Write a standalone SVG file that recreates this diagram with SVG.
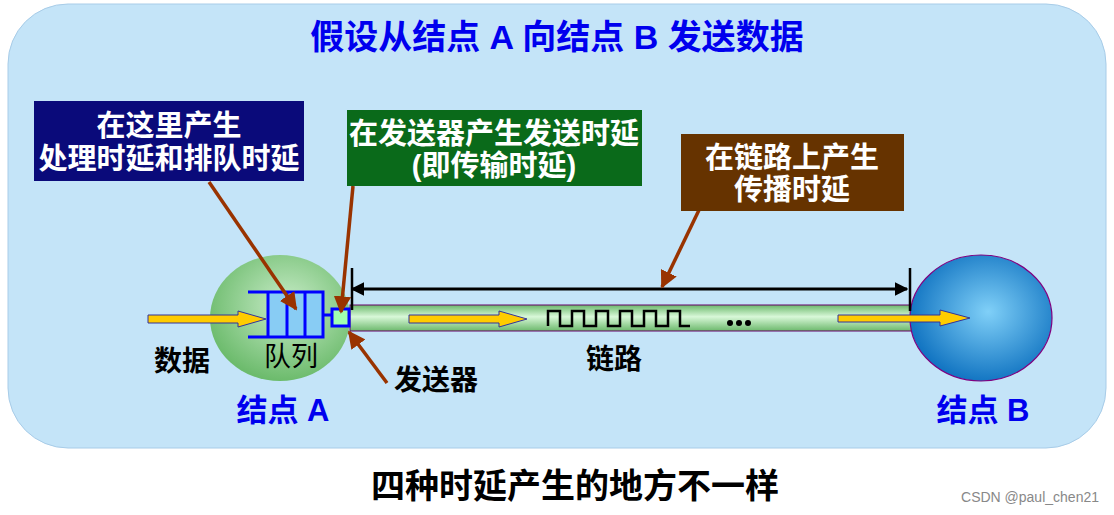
<svg xmlns="http://www.w3.org/2000/svg" width="1114" height="515" viewBox="0 0 1114 515">
<style>
.cn{font-family:"Liberation Sans","Noto Sans CJK SC",sans-serif;font-weight:bold}
.lb{font-size:29px;fill:#fff}
.ptr{stroke:#993300;stroke-width:3.5;fill:none;marker-end:url(#bh)}
.yarr{fill:#ffcc00;stroke:#333399;stroke-width:1}
</style>
<defs>
<radialGradient id="ga" cx="0.55" cy="0.4" r="0.6"><stop offset="0" stop-color="#c8ecc8"/><stop offset="1" stop-color="#6cbb6c"/></radialGradient>
<radialGradient id="gb" cx="0.55" cy="0.45" r="0.6"><stop offset="0" stop-color="#80d0f8"/><stop offset="1" stop-color="#0a6ebe"/></radialGradient>
<linearGradient id="gp" x1="0" y1="0" x2="0" y2="1"><stop offset="0" stop-color="#6cb86c"/><stop offset="0.45" stop-color="#d8f8d8"/><stop offset="1" stop-color="#6cb86c"/></linearGradient>
<marker id="bh" viewBox="0 0 10 10" refX="9" refY="5" markerWidth="5" markerHeight="5" orient="auto"><path d="M0,0L10,5L0,10z" fill="#993300"/></marker>
<marker id="kh" viewBox="0 0 10 10" refX="9" refY="5" markerWidth="4.5" markerHeight="4.5" orient="auto-start-reverse"><path d="M0,0L10,5L0,10z" fill="#000"/></marker>
</defs>
<rect width="1114" height="515" fill="#fff"/>
<rect x="8" y="4" width="1098" height="444" rx="60" fill="#c4e4f8" stroke="#a8cce8"/>
<text x="557" y="49" text-anchor="middle" class="cn" font-size="34" fill="#0000ee">假设从结点 A 向结点 B 发送数据</text>
<g id="link">
<rect x="350" y="305" width="562" height="26" fill="url(#gp)" stroke="#660066" stroke-width="1"/>
<path d="M548,326V311H560V326H572V311H584V326H596V311H608V326H620V311H632V326H644V311H656V326H668V311H680V326H690" fill="none" stroke="#000" stroke-width="2.5"/>
<circle cx="730" cy="323" r="3"/><circle cx="739" cy="323" r="3"/><circle cx="748" cy="323" r="3"/>
</g>
<g id="nodeA"><ellipse cx="280" cy="318" rx="70" ry="63" fill="url(#ga)"/></g>
<g id="nodeB"><ellipse cx="981" cy="318" rx="71" ry="63" fill="url(#gb)" stroke="#800080" stroke-width="1.2"/></g>
<g id="queue">
<rect x="268" y="292" width="55" height="45" fill="#88ccf4"/>
<path d="M248,292H323V337H248M268,292V337M287,292V337M305,292V337" fill="none" stroke="#0000ff" stroke-width="3"/>
<path d="M323,315H332" stroke="#0000ff" stroke-width="3"/>
<rect x="332" y="309" width="17" height="17" fill="#a0ffb0" stroke="#0000ff" stroke-width="3"/>
</g>
<g id="connectors">
<path class="yarr" d="M148,315H238V311L266,319L238,327V323H148z"/>
<path class="yarr" d="M409,315H499V311L527,319L499,327V323H409z"/>
<path class="yarr" d="M838,315H940V310L970,318L940,326V322H838z"/>
<path d="M352,289H907" stroke="#000" stroke-width="3" marker-start="url(#kh)" marker-end="url(#kh)"/>
<path d="M352,268V310M910,268V311" stroke="#000" stroke-width="2.5"/>
<path class="ptr" d="M209,182L296,309"/>
<path class="ptr" d="M353,186L341,312"/>
<path class="ptr" d="M387,383L349,332"/>
<path class="ptr" d="M699,210L662,287"/>
</g>
<g id="label1"><rect x="34" y="101" width="270" height="80" fill="#0a0a7a"/>
<text x="169" y="136" text-anchor="middle" class="cn lb">在这里产生</text>
<text x="169" y="169" text-anchor="middle" class="cn lb">处理时延和排队时延</text></g>
<g id="label2"><rect x="347" y="110" width="295" height="76" fill="#0a6a1a"/>
<text x="494" y="144" text-anchor="middle" class="cn lb">在发送器产生发送时延</text>
<text x="494" y="176" text-anchor="middle" class="cn lb">(即传输时延)</text></g>
<g id="label3"><rect x="681" y="134" width="223" height="77" fill="#663300"/>
<text x="792" y="168" text-anchor="middle" class="cn lb">在链路上产生</text>
<text x="792" y="200" text-anchor="middle" class="cn lb">传播时延</text></g>
<text x="182" y="371" text-anchor="middle" class="cn" font-size="28">数据</text>
<text x="291" y="366" text-anchor="middle" font-family="Liberation Sans,Noto Sans CJK SC,sans-serif" font-size="27">队列</text>
<text x="436" y="390" text-anchor="middle" class="cn" font-size="28">发送器</text>
<text x="614" y="369" text-anchor="middle" class="cn" font-size="28">链路</text>
<text x="283" y="421" text-anchor="middle" class="cn" font-size="31" fill="#0000ee">结点 A</text>
<text x="983" y="421" text-anchor="middle" class="cn" font-size="31" fill="#0000ee">结点 B</text>
<text x="575" y="498" text-anchor="middle" class="cn" font-size="34">四种时延产生的地方不一样</text>
<text x="1099" y="502" text-anchor="end" font-family="Liberation Sans,sans-serif" font-size="14" fill="#888">CSDN @paul_chen21</text>
</svg>
